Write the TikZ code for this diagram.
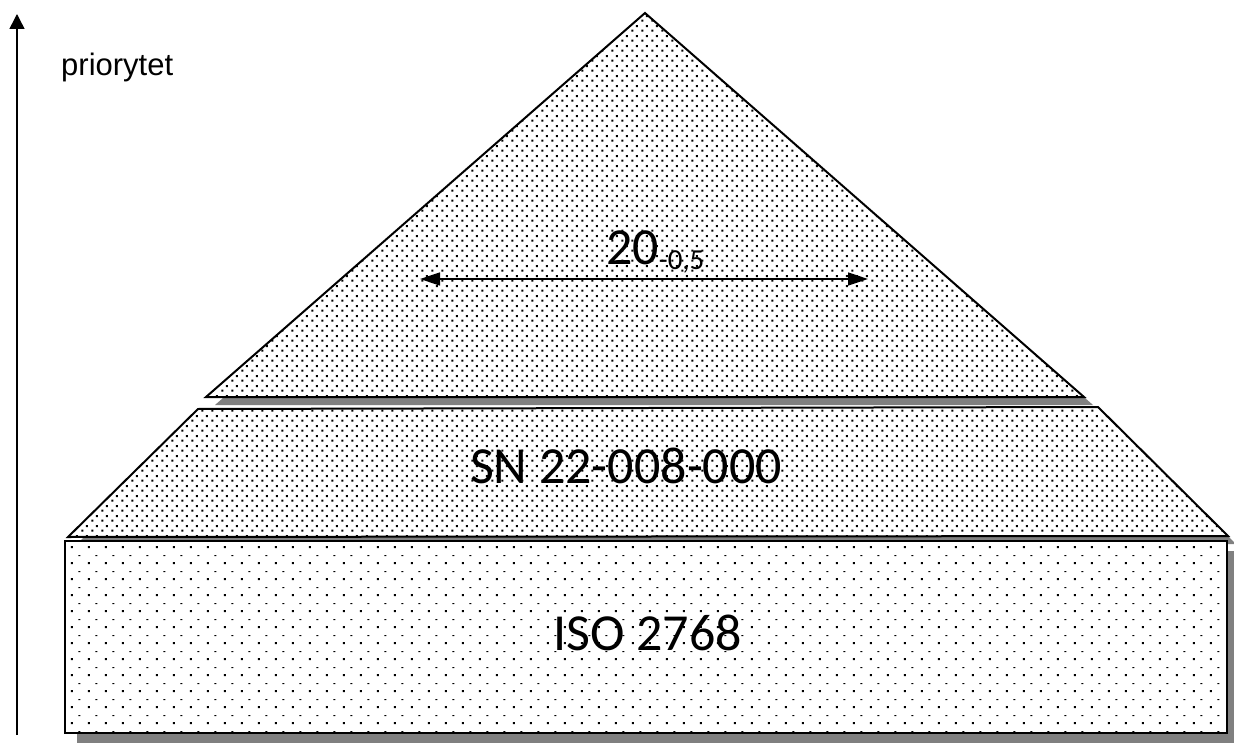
\documentclass[tikz,border=0pt]{standalone}
\usepackage{fontspec}
\setmainfont{Carlito}
\newfontfamily\arialfont{Liberation Sans}
\usetikzlibrary{patterns.meta,arrows.meta}

% fine staggered dots for the two upper layers
\pgfdeclarepattern{
  name=densedots, type=uncolored,
  bottom left={\pgfpoint{0pt}{0pt}},
  top right={\pgfpoint{10pt}{10pt}},
  tile size={\pgfpoint{10pt}{10pt}},
  code={
    \pgfpathrectangle{\pgfpoint{1.5pt}{1.5pt}}{\pgfpoint{2.1pt}{2.1pt}}
    \pgfpathrectangle{\pgfpoint{6.5pt}{6.5pt}}{\pgfpoint{2.1pt}{2.1pt}}
    \pgfusepath{fill}
  }
}
% sparse dots and dashes for the base block
\pgfdeclarepattern{
  name=sparsedots, type=uncolored,
  bottom left={\pgfpoint{0pt}{0pt}},
  top right={\pgfpoint{17pt}{16pt}},
  tile size={\pgfpoint{17pt}{16pt}},
  code={
    \pgfpathrectangle{\pgfpoint{3pt}{3pt}}{\pgfpoint{2.2pt}{2.2pt}}
    \pgfpathrectangle{\pgfpoint{11pt}{11.5pt}}{\pgfpoint{2.2pt}{1.1pt}}
    \pgfusepath{fill}
  }
}

\tikzset{
  layer/.style={draw=black, line width=2pt, line join=miter,
    preaction={fill=white}, pattern={densedots}, pattern color=black},
  baselayer/.style={draw=black, line width=2pt,
    preaction={fill=white}, pattern={sparsedots}, pattern color=black},
  shade/.style={fill=black!50, draw=none},
  axisline/.style={line width=1.5pt, -{Triangle[length=15pt,width=15pt]}},
  dimline/.style={line width=1.5pt,
    {Triangle[length=20pt,width=13pt]}-{Triangle[length=20pt,width=13pt]}},
  label/.style={inner sep=0pt, font=\fontsize{52}{60}\selectfont},
}

\begin{document}
\begin{tikzpicture}[x=1pt,y=-1pt]
\clip (0,0) rectangle (1234,743);
\fill[white] (0,0) rectangle (1234,743);

% drop shadows
\fill[shade, shift={(12,10)}] (65,541) rectangle (1227,733);
\fill[shade, shift={(8,8)}] (198,409) -- (1098,407) -- (1228,536) -- (68,537) -- cycle;
\fill[shade, shift={(9,8)}] (645,13) -- (1084,397) -- (206,397) -- cycle;

% base block
\path[baselayer] (65,541) rectangle (1227,733);
\node[label] (iso) at (647.5,650) [anchor=base] {ISO 2768};

% middle layer
\path[layer] (198,409) -- (1098,407) -- (1228,536) -- (68,537) -- cycle;
\node[label] (sn) at (626,483) [anchor=base] {SN 22-008-000};

% top layer
\path[layer] (645,13) -- (1084,397) -- (206,397) -- cycle;
\node[label, anchor=base west] (tol) at (606,265)
  {20\raisebox{-5pt}{\fontsize{29}{30}\selectfont -0,5}};
\coordinate (dl) at (420,279);
\coordinate (dr) at (868,279);
\draw[dimline] (dl) -- (dr);

% priority axis
\coordinate (ab) at (17,735);
\coordinate (at) at (17,14);
\draw[axisline] (ab) -- (at);
\node[inner sep=0pt, anchor=base west, font=\arialfont\fontsize{31}{36}\selectfont]
  (prio) at (61,76) {priorytet};
\end{tikzpicture}
\end{document}
